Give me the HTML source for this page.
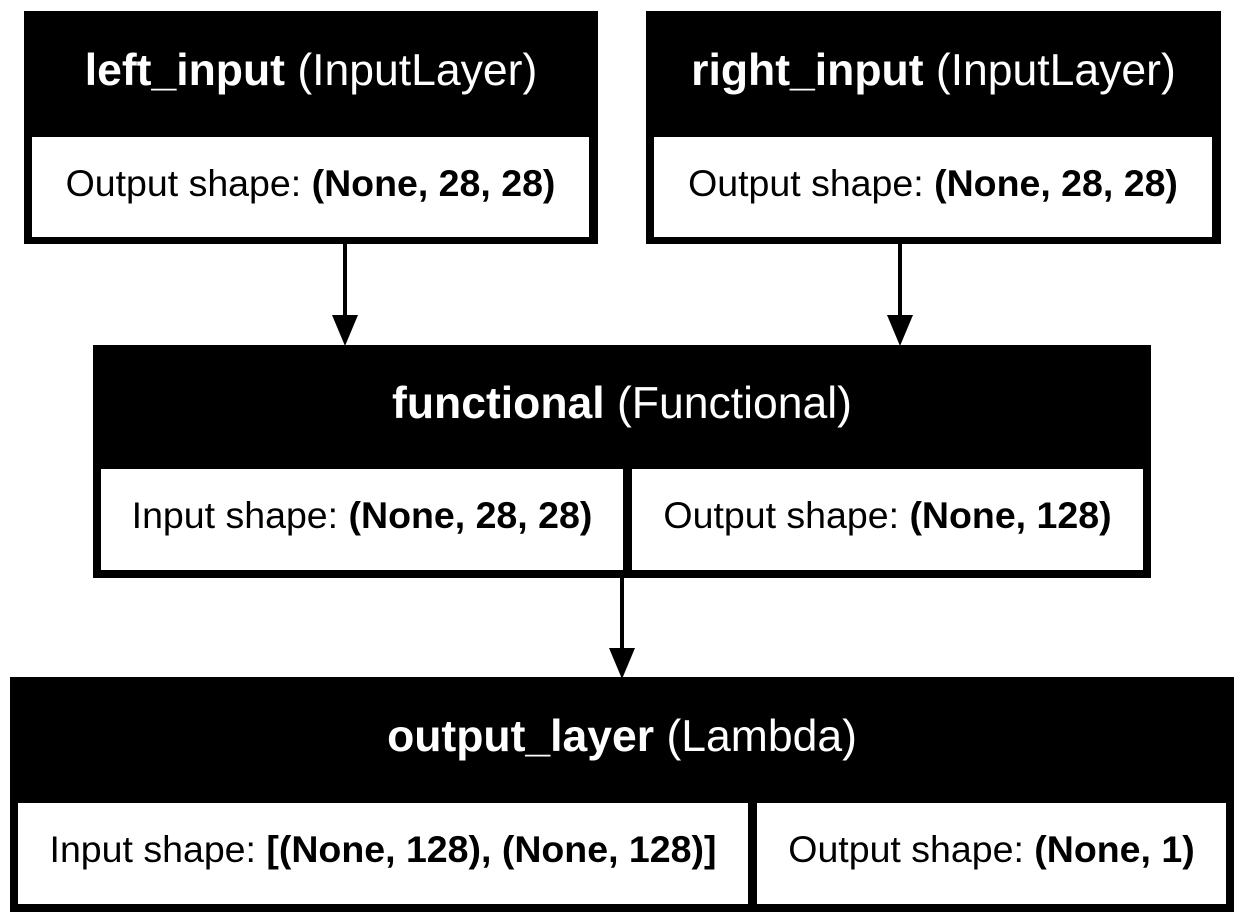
<!DOCTYPE html>
<html><head><style>
body{margin:0;width:1244px;height:922px;background:#fff;position:relative;overflow:hidden;font-family:"Liberation Sans",Arial,sans-serif}
.b{position:absolute;background:#000}
.w{position:absolute;background:#fff;display:flex;align-items:center;justify-content:center;font-size:37.5px;color:#000;white-space:nowrap;box-sizing:border-box;padding-bottom:8px}
.h{position:absolute;display:flex;align-items:center;justify-content:center;color:#fff;font-size:44.5px;white-space:nowrap;box-sizing:border-box;padding-bottom:6px}
b{font-weight:bold}
</style></head><body>
<div class="b" style="left:24px;top:11px;width:574px;height:233px"></div>
<div class="h" style="left:24px;top:11px;width:574px;height:126px"><b>left_input</b>&nbsp;(InputLayer)</div>
<div class="w" style="left:32px;top:137px;width:557px;height:100px">Output shape:&nbsp;<b>(None, 28, 28)</b></div>

<div class="b" style="left:646px;top:11px;width:575px;height:233px"></div>
<div class="h" style="left:646px;top:11px;width:575px;height:126px"><b>right_input</b>&nbsp;(InputLayer)</div>
<div class="w" style="left:654px;top:137px;width:558px;height:100px">Output shape:&nbsp;<b>(None, 28, 28)</b></div>

<div class="b" style="left:93px;top:345px;width:1058px;height:233px"></div>
<div class="h" style="left:93px;top:345px;width:1058px;height:124px"><b>functional</b>&nbsp;(Functional)</div>
<div class="w" style="left:101px;top:469px;width:522px;height:101px">Input shape:&nbsp;<b>(None, 28, 28)</b></div>
<div class="w" style="left:632px;top:469px;width:511px;height:101px">Output shape:&nbsp;<b>(None, 128)</b></div>

<div class="b" style="left:10px;top:677px;width:1224px;height:235px"></div>
<div class="h" style="left:10px;top:677px;width:1224px;height:126px"><b>output_layer</b>&nbsp;(Lambda)</div>
<div class="w" style="left:18px;top:803px;width:730px;height:101px">Input shape:&nbsp;<b>[(None, 128), (None, 128)]</b></div>
<div class="w" style="left:757px;top:803px;width:469px;height:101px">Output shape:&nbsp;<b>(None, 1)</b></div>

<svg width="1244" height="922" style="position:absolute;left:0;top:0">
<g stroke="#000" stroke-width="4">
<line x1="345" y1="244" x2="345" y2="318"/>
<line x1="900" y1="244" x2="900" y2="318"/>
<line x1="622" y1="578" x2="622" y2="650"/>
</g>
<g fill="#000">
<polygon points="332,315 358,315 345,346"/>
<polygon points="887,315 913,315 900,346"/>
<polygon points="609,648 635,648 622,679"/>
</g>
</svg>
</body></html>
